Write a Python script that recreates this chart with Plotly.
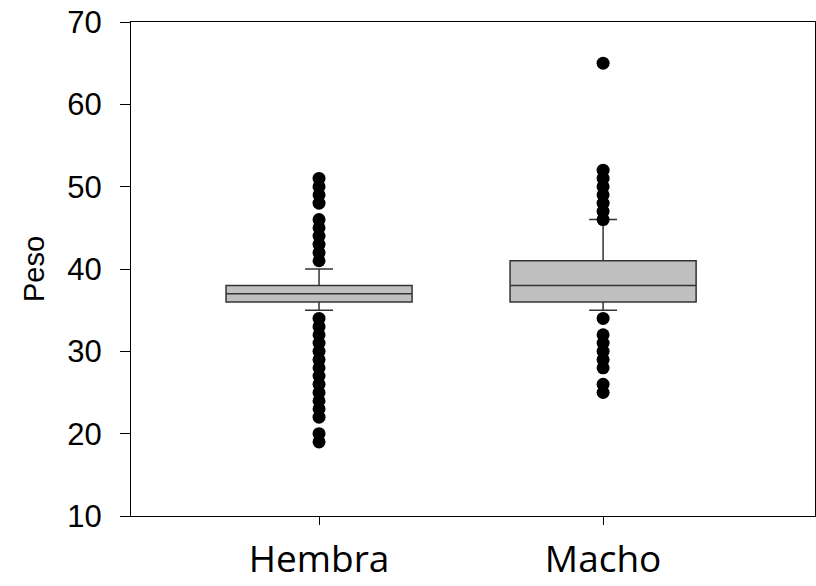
import plotly.graph_objects as go

categories = ["Hembra", "Macho"]
q1 = [36, 36]
median = [37, 38]
q3 = [38, 41]
lower_whisker = [35, 35]
upper_whisker = [40, 46]

hembra_outliers = [51, 50, 49, 48, 46, 45, 44, 43, 42, 41,
                   34, 33, 32, 31, 30, 29, 28, 27, 26, 25, 24, 23, 22, 20, 19]
macho_outliers = [65, 52, 51, 50, 49, 48, 47, 46,
                  34, 32, 31, 30, 29, 28, 26, 25]

xpos = [0, 1]

fig = go.Figure()
fig.add_trace(go.Box(
    x=xpos, q1=q1, median=median, q3=q3,
    lowerfence=lower_whisker, upperfence=upper_whisker,
    width=0.655, whiskerwidth=0.15,
    fillcolor="#c0c0c0", line=dict(color="#333333", width=1.5),
    boxpoints=False, showlegend=False, hoverinfo="skip",
))
fig.add_trace(go.Scatter(
    x=[xpos[0]] * len(hembra_outliers), y=hembra_outliers, mode="markers",
    marker=dict(color="black", size=13), showlegend=False,
))
fig.add_trace(go.Scatter(
    x=[xpos[1]] * len(macho_outliers), y=macho_outliers, mode="markers",
    marker=dict(color="black", size=13), showlegend=False,
))

fig.update_layout(
    width=816, height=586,
    margin=dict(l=131, r=1, t=22, b=70),
    plot_bgcolor="white", paper_bgcolor="white",
    xaxis=dict(
        range=[-0.662, 1.746], tickvals=xpos, ticktext=categories,
        showline=True, linecolor="black", linewidth=1, mirror=True,
        ticks="outside", ticklen=8, tickcolor="black", showgrid=False, zeroline=False,
        tickfont=dict(family="Open Sans", size=37, color="black"),
        ticklabelstandoff=3, automargin=False,
    ),
    yaxis=dict(
        range=[10, 70], tickvals=[10, 20, 30, 40, 50, 60, 70],
        showline=True, linecolor="black", linewidth=1, mirror=True,
        ticks="outside", ticklen=10, tickcolor="black", showgrid=False, zeroline=False,
        tickfont=dict(family="Liberation Sans", size=31, color="black"),
        ticklabelstandoff=12, automargin=False,
        title=dict(text="Peso", font=dict(family="Liberation Sans", size=29, color="black"), standoff=14),
    ),
)

fig.write_html("out.html")
